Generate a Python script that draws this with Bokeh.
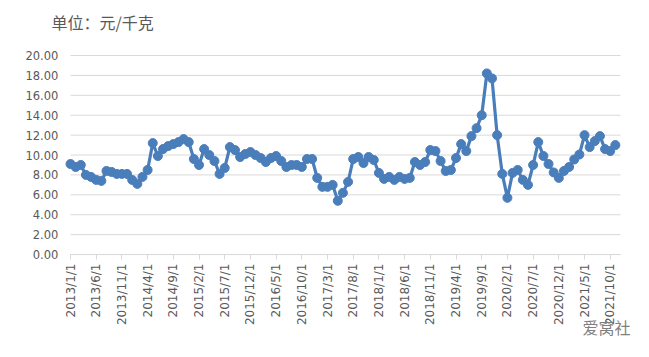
from math import pi
from bokeh.plotting import figure
from bokeh.models import Label, FixedTicker, NumeralTickFormatter, Range1d
from bokeh.embed import file_html
from bokeh.resources import INLINE

# Monthly prices, 2013/1 .. 2021/11 (yuan per kg)
p2013 = [9.1, 8.8, 9.0, 8.0, 7.8, 7.5, 7.4, 8.4, 8.3, 8.1, 8.1, 8.1]
p2014 = [7.5, 7.1, 7.8, 8.5, 11.2, 9.9, 10.6, 10.9, 11.1, 11.3, 11.6, 11.3]
p2015 = [9.6, 9.0, 10.6, 10.0, 9.4, 8.1, 8.7, 10.8, 10.5, 9.8, 10.1, 10.3]
p2016 = [10.0, 9.7, 9.3, 9.7, 9.9, 9.4, 8.8, 9.0, 9.0, 8.8, 9.6, 9.6]
p2017 = [7.7, 6.8, 6.8, 7.0, 5.4, 6.2, 7.3, 9.6, 9.8, 9.2, 9.8, 9.5]
p2018 = [8.2, 7.6, 7.8, 7.5, 7.8, 7.6, 7.7, 9.3, 9.0, 9.3, 10.5, 10.4]
p2019 = [9.4, 8.4, 8.5, 9.7, 11.1, 10.4, 11.9, 12.7, 14.0, 18.2, 17.7, 12.0]
p2020 = [8.1, 5.7, 8.2, 8.5, 7.5, 7.0, 9.0, 11.3, 9.9, 9.1, 8.25, 7.7]
p2021 = [8.4, 8.8, 9.55, 10.05, 12.0, 10.8, 11.4, 11.9, 10.6, 10.4, 11.0]

tick_labels = ["2013/1/1", "2013/6/1", "2013/11/1", "2014/4/1", "2014/9/1",
               "2015/2/1", "2015/7/1", "2015/12/1", "2016/5/1", "2016/10/1",
               "2017/3/1", "2017/8/1", "2018/1/1", "2018/6/1", "2018/11/1",
               "2019/4/1", "2019/9/1", "2020/2/1", "2020/7/1", "2020/12/1",
               "2021/5/1", "2021/10/1"]
y_ticks = [0, 2, 4, 6, 8, 10, 12, 14, 16, 18, 20]
title_text = "单位：元/千克"
watermark = "爱窝社"

price = p2013 + p2014 + p2015 + p2016 + p2017 + p2018 + p2019 + p2020 + p2021
x = list(range(len(price)))
x_end = len(price)
tick_step = 5
tick_pos = [i * tick_step for i in range(len(tick_labels))]

BLUE = "#4a7ebb"
GRID = "#d9d9d9"
TXT = "#595959"

p = figure(width=633, height=341,
           x_range=Range1d(-13.62, 109.53), y_range=Range1d(-8.74, 25.53),
           output_backend="svg", toolbar_location=None,
           min_border_left=0, min_border_right=0, min_border_top=0, min_border_bottom=0)
p.outline_line_color = None
p.background_fill_color = "white"
p.border_fill_color = "white"
p.xgrid.visible = False
p.ygrid.visible = False

# horizontal gridlines spanning the date axis
p.segment(x0=[0] * len(y_ticks), x1=[x_end] * len(y_ticks), y0=y_ticks, y1=y_ticks,
          line_color=GRID, line_width=1)

p.line(x, price, line_color=BLUE, line_width=3.2)
p.scatter(x, price, size=9, fill_color=BLUE, line_color=BLUE)

# x axis, drawn at y = 0
xa = p.xaxis[0]
xa.fixed_location = 0
xa.ticker = FixedTicker(ticks=tick_pos, minor_ticks=[])
xa.major_label_overrides = {t: l for t, l in zip(tick_pos, tick_labels)}
xa.major_label_orientation = pi / 2
xa.bounds = (0, x_end)
xa.axis_line_color = GRID
xa.major_tick_line_color = GRID
xa.major_tick_out = 5
xa.major_tick_in = 0
xa.minor_tick_line_color = None
xa.major_label_standoff = 4
xa.major_label_text_font = "DejaVu Sans"
xa.major_label_text_font_size = "12px"
xa.major_label_text_color = TXT

# y axis, drawn just left of the first month
ya = p.yaxis[0]
ya.fixed_location = -1.2
ya.ticker = FixedTicker(ticks=y_ticks, minor_ticks=[])
ya.formatter = NumeralTickFormatter(format="0.00")
ya.bounds = (0, 20)
ya.axis_line_color = None
ya.major_tick_line_color = None
ya.minor_tick_line_color = None
ya.major_tick_out = 0
ya.major_tick_in = 0
ya.major_label_standoff = 6
ya.major_label_text_font = "DejaVu Sans"
ya.major_label_text_font_size = "11.5px"
ya.major_label_text_color = TXT

p.add_layout(Label(x=-3.7, y=23.4, text=title_text, text_font="Noto Sans CJK SC",
                   text_font_size="16px", text_color=TXT, text_baseline="middle",
                   text_align="left"))
p.add_layout(Label(x=99.6, y=-7.3, text=watermark, text_font="Noto Sans CJK SC",
                   text_font_size="16px", text_color="#7f7f7f", text_baseline="middle",
                   text_align="left"))

open("out.html", "w").write(file_html(p, INLINE))
